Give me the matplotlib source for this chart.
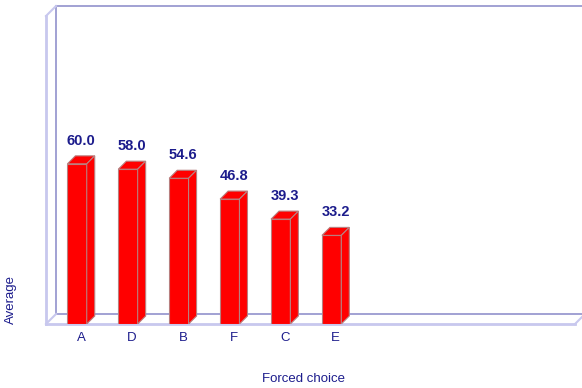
import matplotlib.pyplot as plt
from matplotlib.patches import Polygon

categories = ["A", "D", "B", "F", "C", "E"]
averages = [60.0, 58.0, 54.6, 46.8, 39.3, 33.2]
value_labels = ["60.0", "58.0", "54.6", "46.8", "39.3", "33.2"]

W, H, DPI = 582, 388, 100
plt.rcParams["font.family"] = ["Liberation Sans", "DejaVu Sans"]

fig = plt.figure(figsize=(W / DPI, H / DPI), dpi=DPI)

# front plane of the box, in pixels
left, right, top, bottom = 46, 575, 16, 324
ax = fig.add_axes([left / W, 1 - bottom / H, (right - left) / W, (bottom - top) / H])
xmin, xmax = -0.61, 9.78
ymax = 115.4
ax.set_xlim(xmin, xmax)
ax.set_ylim(0, ymax)
ax.axis("off")

# pixels -> data units
px_x = (xmax - xmin) / (right - left)
px_y = ymax / (bottom - top)

red = "#ff0000"
edge = "#b88080"
navy = "#1c1c8c"
back_col = "#9a9ad0"
front_col = "#c8c8ee"

# box frame (back wall + floor), depth in pixels
bx = 10 / (right - left)
by = 10 / (bottom - top)
kw = dict(transform=ax.transAxes, clip_on=False)
ax.plot([bx, bx], [by, 1 + by], color=back_col, lw=1.3, zorder=1, **kw)
ax.plot([bx, 1.2], [1 + by, 1 + by], color=back_col, lw=1.3, zorder=1, **kw)
ax.plot([bx, 1.2], [by, by], color=back_col, lw=1.3, zorder=1, **kw)
ax.plot([0, 0], [0, 1], color=front_col, lw=2, zorder=1, **kw)
ax.plot([0, bx], [1, 1 + by], color=front_col, lw=1.5, zorder=1, **kw)
ax.plot([0, bx], [0, by], color=front_col, lw=1.5, zorder=1, **kw)
ax.plot([0, 1], [0, 0], color=front_col, lw=2, zorder=1, **kw)
ax.plot([1, 1 + bx], [0, by], color=front_col, lw=1.5, zorder=1, **kw)

# 3d bars
depth = 8
dx, dy = depth * px_x, depth * px_y
bw = 0.38
for i, v in enumerate(averages):
    x0, x1 = i - bw / 2, i + bw / 2
    ax.bar(i, v, width=bw, color=red, edgecolor=edge, linewidth=0.8, zorder=3)
    top_face = [(x0, v), (x1, v), (x1 + dx, v + dy), (x0 + dx, v + dy)]
    side_face = [(x1, 0), (x1 + dx, dy), (x1 + dx, v + dy), (x1, v)]
    ax.add_patch(Polygon(top_face, closed=True, facecolor=red, edgecolor=edge,
                         linewidth=0.8, zorder=3))
    ax.add_patch(Polygon(side_face, closed=True, facecolor=red, edgecolor=edge,
                         linewidth=0.8, zorder=3))
    ax.text(i + dx / 2, v + dy + 15 * px_y, value_labels[i], ha="center", va="center",
            color=navy, fontsize=10.5, fontweight="bold")
    ax.text(i + dx / 2, -14 * px_y, categories[i], ha="center", va="center",
            color=navy, fontsize=9.5)

fig.text(303 / W, 1 - 379 / H, "Forced choice", ha="center", va="center",
         color=navy, fontsize=9.5)
fig.text(11 / W, 1 - 299 / H, "Average", ha="center", va="center",
         rotation=90, color=navy, fontsize=9.5)

fig.savefig("out.png", dpi=DPI)
